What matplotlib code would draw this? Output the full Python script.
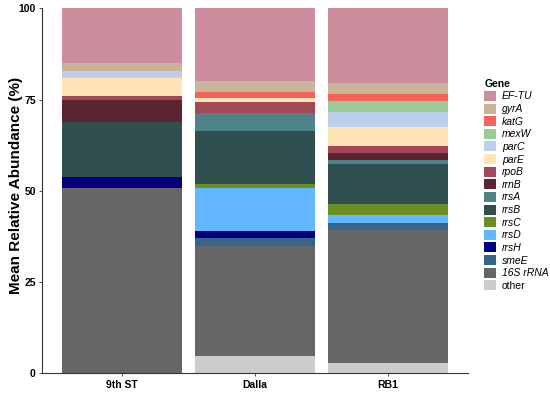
import matplotlib.pyplot as plt
from matplotlib.patches import Patch
import numpy as np

plt.rcParams["font.family"] = ["Liberation Sans", "DejaVu Sans"]

sites = ["9th ST", "Dalla", "RB1"]

# stacking order, bottom to top
genes = ["other", "16S rRNA", "smeE", "rrsH", "rrsD", "rrsC", "rrsB", "rrsA",
         "rrnB", "rpoB", "parE", "parC", "mexW", "katG", "gyrA", "EF-TU"]

colors = ["#CCCCCC", "#666666", "#36648B", "#000080", "#63B8FF", "#6B8E23",
          "#2F4F4F", "#4E8487", "#5A2430", "#A24857", "#FFE4B5", "#BCD0EC",
          "#98CC96", "#F4625A", "#C9B49A", "#CC8E9C"]

# mean relative abundance (%) per gene, columns = sites
other_vals = [0.0, 4.7, 2.9]
s16_vals = [50.9, 30.3, 36.4]
smeE_vals = [0.0, 2.0, 2.0]
rrsH_vals = [3.0, 2.0, 0.0]
rrsD_vals = [0.0, 11.8, 2.1]
rrsC_vals = [0.0, 1.0, 3.0]
rrsB_vals = [15.0, 14.7, 11.0]
rrsA_vals = [0.0, 4.8, 1.0]
rrnB_vals = [6.0, 0.0, 2.0]
rpoB_vals = [1.0, 3.0, 2.0]
parE_vals = [5.0, 1.0, 5.0]
parC_vals = [2.0, 0.0, 4.1]
mexW_vals = [0.0, 0.0, 3.0]
katG_vals = [0.0, 1.9, 2.0]
gyrA_vals = [2.0, 3.0, 3.0]
eftu_vals = [15.1, 19.8, 20.5]

values = [other_vals, s16_vals, smeE_vals, rrsH_vals, rrsD_vals, rrsC_vals,
          rrsB_vals, rrsA_vals, rrnB_vals, rpoB_vals, parE_vals, parC_vals,
          mexW_vals, katG_vals, gyrA_vals, eftu_vals]

fig = plt.figure(figsize=(5.5, 3.93), dpi=100)
ax = fig.add_axes([0.0764, 0.0501, 0.7746, 0.9288])

x = np.arange(len(sites))
bottom = np.zeros(len(sites))
for gene, col, vals in zip(genes, colors, values):
    vals = np.array(vals)
    ax.bar(x, vals, bottom=bottom, width=0.9, color=col, linewidth=0)
    bottom += vals

ax.set_xlim(-0.6, len(sites) - 0.4)
ax.set_ylim(0, 100)
ax.set_yticks([0, 25, 50, 75, 100])
ax.set_xticks(x)
ax.set_xticklabels(sites, fontweight="bold", fontsize=7.5)
for lab in ax.get_yticklabels():
    lab.set_fontweight("bold")
    lab.set_fontsize(7.5)
ax.tick_params(length=2.5, width=0.6, color="#333333", pad=2)
ax.set_ylabel("Mean Relative Abundance (%)", fontsize=11, fontweight="bold")
# label sits beside the narrow tick labels, as in the original
ax.yaxis.set_label_coords(-0.044, 0.516)
for s in ["top", "right"]:
    ax.spines[s].set_visible(False)
for s in ["left", "bottom"]:
    ax.spines[s].set_linewidth(0.8)
    ax.spines[s].set_color("#333333")

# legend, top of stack first
handles = [Patch(facecolor=c, edgecolor="none") for c in colors[::-1]]
leg = fig.legend(handles, genes[::-1], loc="upper left",
                 bbox_to_anchor=(0.873, 0.81), frameon=False,
                 title="Gene", fontsize=7.5, handlelength=1.1, handleheight=1.1,
                 labelspacing=0.2, handletextpad=0.6, borderaxespad=0)
leg.get_title().set_fontweight("bold")
leg.get_title().set_fontsize(7.5)
leg._legend_box.align = "left"
for t in leg.get_texts():
    if t.get_text() != "other":
        t.set_fontstyle("italic")

fig.savefig("out.png", dpi=100)
